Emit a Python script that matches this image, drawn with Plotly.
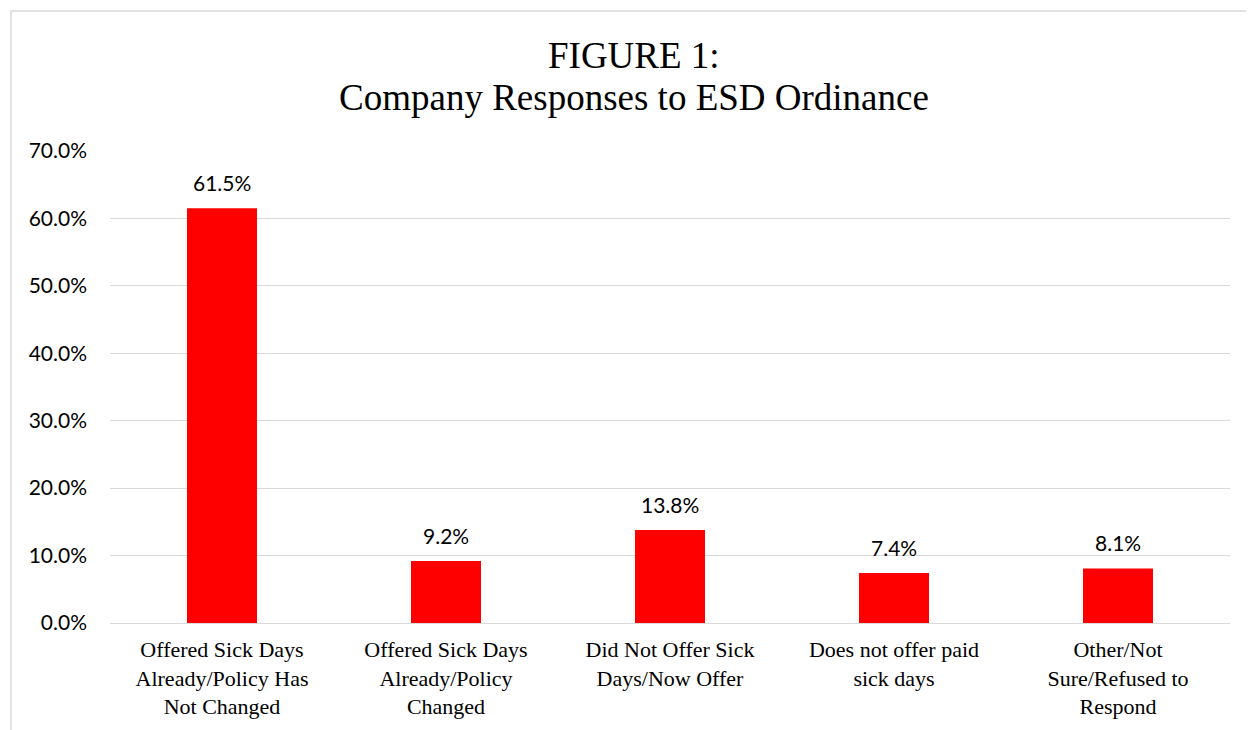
import plotly.graph_objects as go

categories = [
    "Offered Sick Days<br>Already/Policy Has<br>Not Changed",
    "Offered Sick Days<br>Already/Policy<br>Changed",
    "Did Not Offer Sick<br>Days/Now Offer",
    "Does not offer paid<br>sick days",
    "Other/Not<br>Sure/Refused to<br>Respond",
]
values = [61.5, 9.2, 13.8, 7.4, 8.1]
value_labels = ["61.5%", "9.2%", "13.8%", "7.4%", "8.1%"]
y_ticks = [0, 10, 20, 30, 40, 50, 60, 70]
title_lines = ["FIGURE 1:", "Company Responses to ESD Ordinance"]

OFF = 8  # default page body margin
W, H = 1254 - OFF, 730 - OFF
L, R, T, B = 110 - OFF, 24, 151 - OFF, 107
pw, ph = W - L - R, H - T - B

def px_x(p):  # page pixel -> paper x
    return (p - OFF - L) / pw

def px_y(p):  # page pixel -> paper y
    return (H - B - (p - OFF)) / ph

fig = go.Figure(go.Bar(
    x=categories, y=values,
    marker=dict(color="#ff0000", line=dict(width=0)),
    hoverinfo="skip",
))

for c, v, t in zip(categories, values, value_labels):
    fig.add_annotation(
        x=c, y=v, text=t, showarrow=False,
        xanchor="center", yanchor="bottom", yshift=11,
        font=dict(family="Lato, Open Sans, sans-serif", size=21, color="#000000"),
    )

for line, ypx in zip(title_lines, [55, 98]):
    fig.add_annotation(
        xref="paper", yref="paper", x=px_x(634), y=px_y(ypx),
        text=line, showarrow=False, xanchor="center", yanchor="middle",
        font=dict(family="Liberation Serif, Times New Roman, serif", size=37, color="#000000"),
    )

fig.update_layout(
    width=W, height=H,
    margin=dict(l=L, r=R, t=T, b=B),
    paper_bgcolor="white", plot_bgcolor="white",
    bargap=0.6875,
    showlegend=False,
    xaxis=dict(
        tickfont=dict(family="Liberation Serif, Times New Roman, serif", size=22, color="#000000"),
        showgrid=False, showline=False, ticks="", ticklabelstandoff=11,
    ),
    yaxis=dict(
        range=[0, 70], tickvals=y_ticks,
        ticktext=[f"{v:.1f}%" for v in y_ticks],
        tickfont=dict(family="Lato, Open Sans, sans-serif", size=21, color="#000000"),
        showgrid=True, gridcolor="#d9d9d9", gridwidth=1,
        zeroline=True, zerolinecolor="#d9d9d9", zerolinewidth=1,
        showline=False, ticks="", ticklabelstandoff=22,
    ),
    shapes=[
        dict(type="line", xref="paper", yref="paper",
             x0=px_x(11), x1=px_x(11), y0=px_y(11), y1=px_y(760),
             line=dict(color="#d9d9d9", width=1.5)),
        dict(type="line", xref="paper", yref="paper",
             x0=px_x(11), x1=px_x(1280), y0=px_y(11), y1=px_y(11),
             line=dict(color="#d9d9d9", width=1.5)),
    ],
)

fig.write_html("out.html")
